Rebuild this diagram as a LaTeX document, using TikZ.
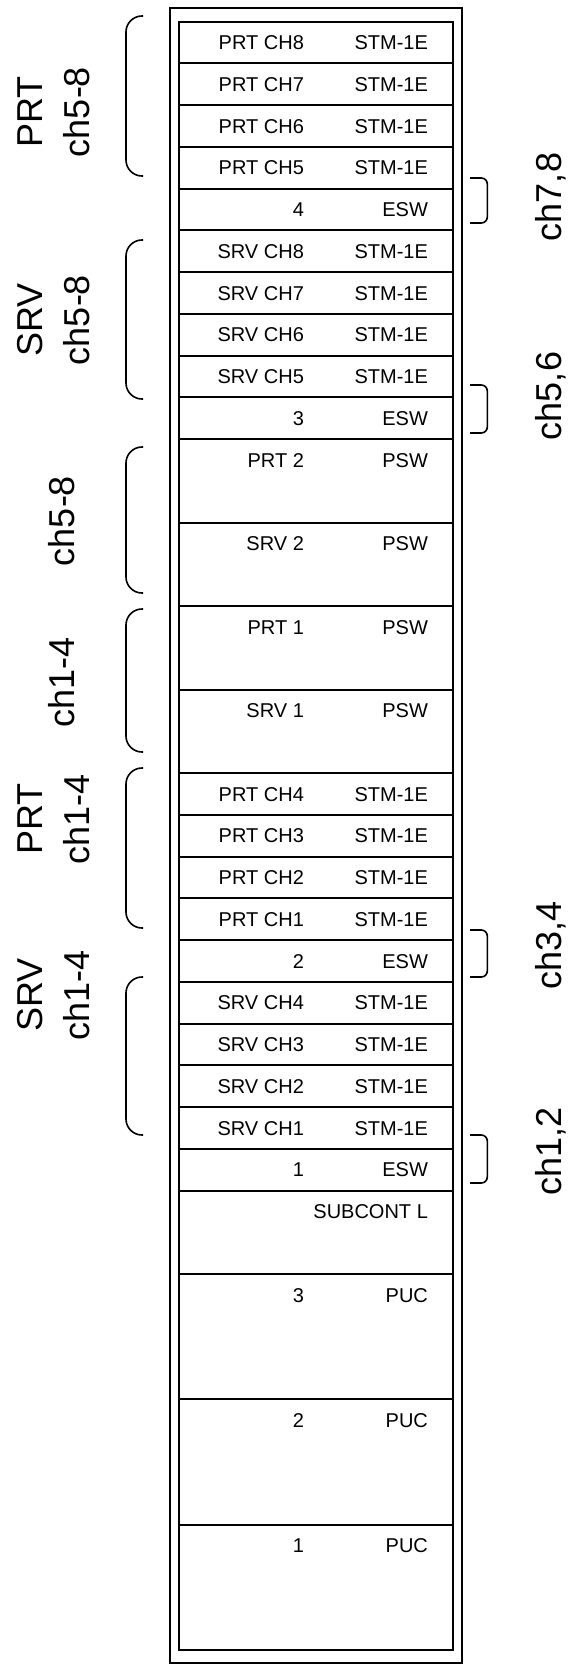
\documentclass[tikz,border=0pt]{standalone}
\usepackage{fontspec}
\setmainfont{Liberation Sans}
\usetikzlibrary{positioning}
\newcommand{\cardname}[1]{\makebox[125pt][r]{#1}}
\newcommand{\cardtype}[1]{\makebox[124pt][r]{#1}}
\tikzset{
  rack/.style={draw,line width=2pt,minimum width=291.7pt,minimum height=1655pt,inner sep=0pt},
  cardtext/.style={anchor=north west,inner sep=0pt,minimum height=41.75pt,
    font=\fontsize{20}{24}\selectfont},
  card/.style 2 args={draw,line width=2pt,minimum width=274.6pt,minimum height=41.75pt,
    inner sep=0pt,outer sep=0pt,label={[cardtext]north west:\cardname{#1}\cardtype{#2}}},
  cardtwo/.style 2 args={card={#1}{#2},minimum height=83.5pt},
  cardthree/.style 2 args={card={#1}{#2},minimum height=125.25pt},
  sidelabel/.style={rotate=90,align=center,inner sep=0pt,font=\fontsize{36}{47}\selectfont},
  eswlabel/.style={rotate=90,inner sep=0pt,font=\fontsize{36}{43}\selectfont},
  brace/.style={line width=1.6pt,rounded corners=16pt},
  brack/.style={line width=1.6pt,rounded corners=6pt}
}
\begin{document}
\begin{tikzpicture}[x=1pt,y=-1pt]
\useasboundingbox (0,0) rectangle (569,1664);

\node[rack] (rack) at (315.85,835.2) {};

\node[card={PRT CH8}{STM-1E},anchor=north] (prt8) at (316,21.6) {};
\node[card={PRT CH7}{STM-1E},below=0pt of prt8] (prt7) {};
\node[card={PRT CH6}{STM-1E},below=0pt of prt7] (prt6) {};
\node[card={PRT CH5}{STM-1E},below=0pt of prt6] (prt5) {};
\node[card={4}{ESW},below=0pt of prt5] (esw4) {};
\node[card={SRV CH8}{STM-1E},below=0pt of esw4] (srv8) {};
\node[card={SRV CH7}{STM-1E},below=0pt of srv8] (srv7) {};
\node[card={SRV CH6}{STM-1E},below=0pt of srv7] (srv6) {};
\node[card={SRV CH5}{STM-1E},below=0pt of srv6] (srv5) {};
\node[card={3}{ESW},below=0pt of srv5] (esw3) {};
\node[cardtwo={PRT 2}{PSW},below=0pt of esw3] (pswprt2) {};
\node[cardtwo={SRV 2}{PSW},below=0pt of pswprt2] (pswsrv2) {};
\node[cardtwo={PRT 1}{PSW},below=0pt of pswsrv2] (pswprt1) {};
\node[cardtwo={SRV 1}{PSW},below=0pt of pswprt1] (pswsrv1) {};
\node[card={PRT CH4}{STM-1E},below=0pt of pswsrv1] (prt4) {};
\node[card={PRT CH3}{STM-1E},below=0pt of prt4] (prt3) {};
\node[card={PRT CH2}{STM-1E},below=0pt of prt3] (prt2) {};
\node[card={PRT CH1}{STM-1E},below=0pt of prt2] (prt1) {};
\node[card={2}{ESW},below=0pt of prt1] (esw2) {};
\node[card={SRV CH4}{STM-1E},below=0pt of esw2] (srv4) {};
\node[card={SRV CH3}{STM-1E},below=0pt of srv4] (srv3) {};
\node[card={SRV CH2}{STM-1E},below=0pt of srv3] (srv2) {};
\node[card={SRV CH1}{STM-1E},below=0pt of srv2] (srv1) {};
\node[card={1}{ESW},below=0pt of srv1] (esw1) {};
\node[cardtwo={}{SUBCONT L},below=0pt of esw1] (sub) {};
\node[cardthree={3}{PUC},below=0pt of sub] (puc3) {};
\node[cardthree={2}{PUC},below=0pt of puc3] (puc2) {};
\node[cardthree={1}{PUC},below=0pt of puc2] (puc1) {};

\draw[brace] (143,16) -- (126,16) -- (126,176) -- (143,176);
\draw[brace] (143,240) -- (126,240) -- (126,399) -- (143,399);
\draw[brace] (143,447) -- (126,447) -- (126,593) -- (143,593);
\draw[brace] (143,609) -- (126,609) -- (126,752) -- (143,752);
\draw[brace] (143,768) -- (126,768) -- (126,928) -- (143,928);
\draw[brace] (143,977) -- (126,977) -- (126,1135) -- (143,1135);

\draw[brack] (470,178) -- (487.3,178) -- (487.3,223) -- (470,223);
\draw[brack] (470,385) -- (487.3,385) -- (487.3,433) -- (470,433);
\draw[brack] (470,930) -- (487.3,930) -- (487.3,977) -- (470,977);
\draw[brack] (470,1135) -- (487.3,1135) -- (487.3,1183) -- (470,1183);

\node[sidelabel] (prt58) at (53.5,112) {PRT\\ch5-8};
\node[sidelabel] (srv58) at (53.5,320) {SRV\\ch5-8};
\node[sidelabel] (psw58) at (62,521) {ch5-8};
\node[sidelabel] (psw14) at (62,682) {ch1-4};
\node[sidelabel] (prt14) at (53.5,819) {PRT\\ch1-4};
\node[sidelabel] (srv14) at (53.5,995) {SRV\\ch1-4};

\node[eswlabel] (ch78) at (551,197) {ch7,8};
\node[eswlabel] (ch56) at (551,396) {ch5,6};
\node[eswlabel] (ch34) at (551,945.5) {ch3,4};
\node[eswlabel] (ch12) at (551,1151) {ch1,2};
\end{tikzpicture}
\end{document}
